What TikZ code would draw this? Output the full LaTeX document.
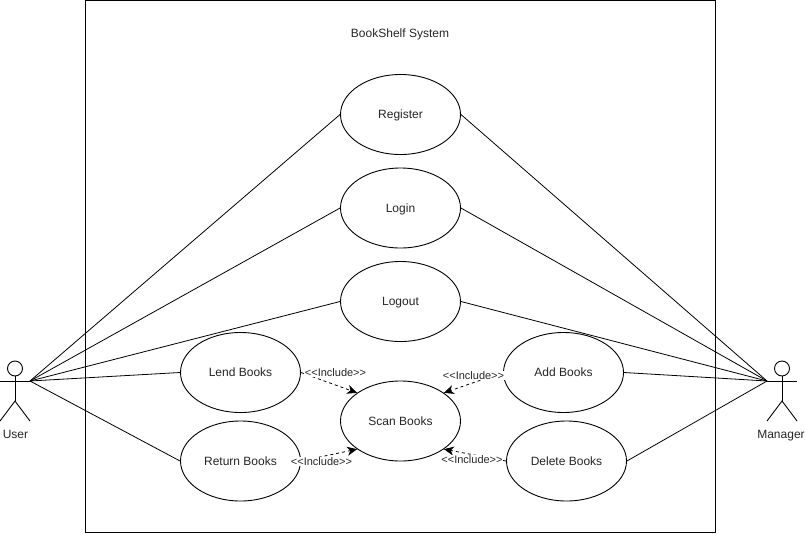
\documentclass[tikz,border=0pt]{standalone}
\usepackage{fontspec}
\setmainfont{Liberation Sans}
\usetikzlibrary{shapes.geometric,arrows.meta}
\newcommand{\incltext}{<{}<Include>{}>}
\tikzset{
  every node/.style={font=\fontsize{12}{14}\selectfont,text=black!85,text height=8.8pt,text depth=0pt},
  usecase/.style={draw,ellipse,line width=0.9pt,minimum width=120pt,minimum height=80pt,inner sep=0pt,fill=white},
  assoc/.style={line width=0.8pt},
  incl/.style={line width=0.8pt,dash pattern=on 3pt off 3pt,-{Stealth[length=10pt,width=9pt,inset=3pt]}},
  incllabel/.style={font=\fontsize{11}{13}\selectfont,fill=white,inner xsep=0.5pt,inner ysep=0.5pt,text height=8pt},
  actorline/.style={line width=0.9pt},
  plain/.style={inner sep=0pt}
}
\begin{document}
\begin{tikzpicture}[x=1pt,y=-1pt]
\useasboundingbox (0,0) rectangle (805,533);
\draw[line width=0.9pt] (85.5,0.5) rectangle (715.5,532);
\node[plain] (title) at (400,33) {BookShelf System};

\coordinate (userhand) at (30,381);
\coordinate (mgrhand) at (767,381);

\node[usecase] (register) at (400.5,114.5) {Register};
\node[usecase] (login) at (400.5,208) {Login};
\node[usecase] (logout) at (400.5,301.5) {Logout};
\node[usecase] (lend) at (240.5,372.5) {Lend Books};
\node[usecase] (return) at (240.5,461) {Return Books};
\node[usecase] (scan) at (400.5,421) {Scan Books};
\node[usecase] (add) at (563.5,372.5) {Add Books};
\node[usecase] (delete) at (566.5,461) {Delete Books};

\foreach \n in {register,login,logout,lend,return}
  \draw[assoc] (userhand) -- (\n.west);
\foreach \n in {register,login,logout,add,delete}
  \draw[assoc] (mgrhand) -- (\n.east);

\draw[incl] (lend.east) -- (scan.147);
\draw[incl] (return.east) -- (scan.213);
\draw[incl] (add.west) -- (scan.33);
\draw[incl] (delete.west) -- (scan.327);

\node[incllabel] (l1) at (335.5,372) {\incltext};
\node[incllabel] (l2) at (321.5,461) {\incltext};
\node[incllabel] (l3) at (473.5,375) {\incltext};
\node[incllabel] (l4) at (472,459) {\incltext};

% User actor
\draw[actorline] (15,368.5) circle (7.5);
\draw[actorline] (15,376) -- (15,401);
\draw[actorline] (0,381) -- (30,381);
\draw[actorline] (0,421) -- (15,401) -- (30,421);
\node[plain] (user) at (15.5,434.5) {User};

% Manager actor
\draw[actorline] (782,368.5) circle (7.5);
\draw[actorline] (782,376) -- (782,401);
\draw[actorline] (767,381) -- (797,381);
\draw[actorline] (767,421) -- (782,401) -- (797,421);
\node[plain] (manager) at (781,434.5) {Manager};
\end{tikzpicture}
\end{document}
